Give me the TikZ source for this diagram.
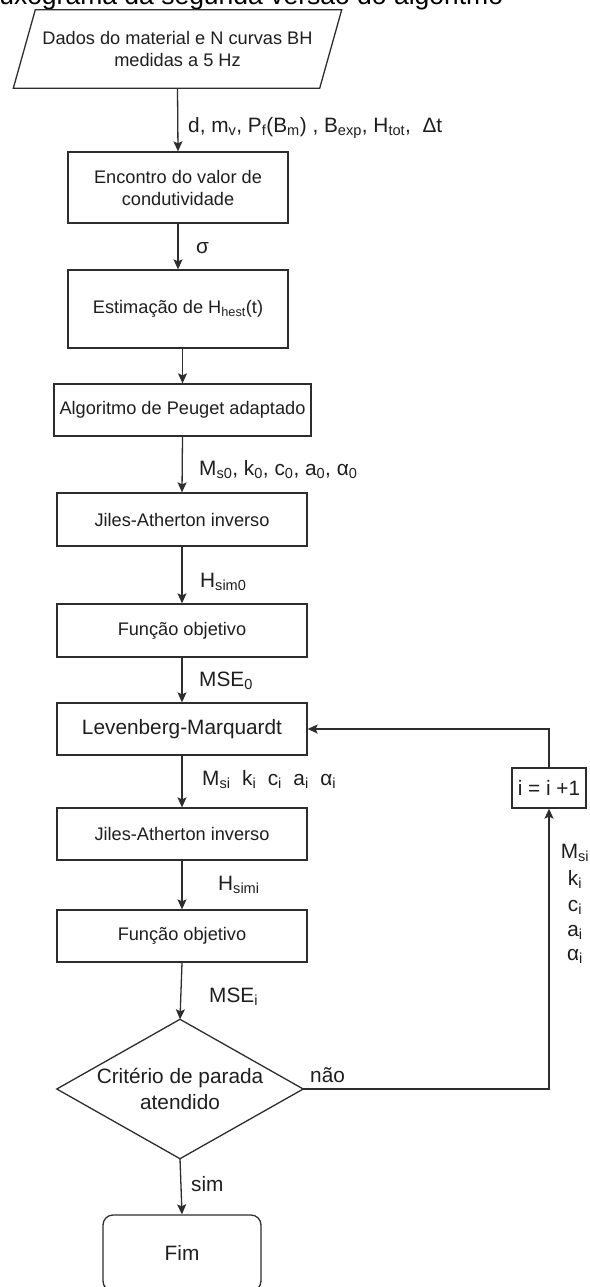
\documentclass[tikz,border=0pt]{standalone}
\usepackage{fontspec}
\setmainfont{Liberation Sans}
\usetikzlibrary{arrows.meta}

\definecolor{ink}{RGB}{30,30,30}
\definecolor{edge}{RGB}{45,45,45}

\newcommand\bodyfont{\fontsize{18.2}{22}\selectfont}
\newcommand\bigfont{\fontsize{20.8}{26}\selectfont}
\newcommand\sbs[1]{\textsubscript{#1}}

\tikzset{
  line/.style={draw=edge, line width=1.3pt},
  arr/.style={line, -{Stealth[length=10pt,width=9pt,inset=2pt]}},
  proc/.style={line, rectangle, inner sep=0pt, align=center, text=ink, font=\bodyfont},
  bigproc/.style={proc, font=\bigfont},
  lbl/.style={inner sep=0pt, anchor=base west, text=ink, font=\bigfont},
  stk/.style={inner sep=0pt, anchor=base, text=ink, font=\bigfont},
}

\begin{document}
\begin{tikzpicture}[x=1pt, y=-1pt]
\useasboundingbox (0,0) rectangle (589,1287);
\clip (0,0) rectangle (589,1287);

% heading
\node[inner sep=0pt, anchor=base west, font=\fontsize{26.5}{30}\selectfont] (title) at (-23,4.5)
  {Fluxograma da segunda versão do algoritmo};

% input data (parallelogram drawn round a plain node)
\node[inner sep=0pt, minimum width=306pt, minimum height=78pt, align=center, text=ink, font=\bodyfont]
  (input) at (177.5,49) {Dados do material e N curvas BH\\medidas a 5 Hz};
\draw[line] ([xshift=11pt]input.north west) -- ([xshift=11pt]input.north east)
  -- ([xshift=-11pt]input.south east) -- ([xshift=-11pt]input.south west) -- cycle;

% processing steps
\node[proc, minimum width=220pt, minimum height=71pt] (cond) at (178,187.5)
  {Encontro do valor de\\condutividade};
\node[proc, minimum width=220pt, minimum height=78pt] (hest) at (178,309)
  {Estimação de H\sbs{hest}(t)};
\node[proc, minimum width=257pt, minimum height=52pt] (peug) at (182.5,410)
  {Algoritmo de Peuget adaptado};
\node[proc, minimum width=250pt, minimum height=53pt] (ja0) at (182,519.5)
  {Jiles-Atherton inverso};
\node[proc, minimum width=250pt, minimum height=53pt] (obj0) at (182,630.5)
  {Função objetivo};
\node[bigproc, minimum width=250pt, minimum height=52pt] (lm) at (182,729)
  {Levenberg-Marquardt};
\node[proc, minimum width=250pt, minimum height=52pt] (jai) at (182,834)
  {Jiles-Atherton inverso};
\node[proc, minimum width=250pt, minimum height=52pt] (obji) at (182,936)
  {Função objetivo};

% decision (diamond drawn round a plain node)
\node[inner sep=0pt, minimum width=246pt, minimum height=139pt, align=center, text=ink, font=\bigfont]
  (crit) at (180,1089) {Critério de parada\\atendido};
\draw[line] (crit.north) -- (crit.east) -- (crit.south) -- (crit.west) -- cycle;

% end
\node[bigproc, rounded corners=10pt, minimum width=158pt, minimum height=76pt] (fim) at (182,1253) {Fim};

% counter update
\node[bigproc, minimum width=74pt, minimum height=40pt] (inc) at (549,788) {i = i +1};

% main flow
\draw[arr] (input.south) -- (cond.north);
\draw[arr] (cond.south) -- (hest.north);
\draw[arr] (peug.north |- hest.south) -- (peug.north);
\draw[arr] (peug.south) -- (ja0.north);
\draw[arr] (ja0.south) -- (obj0.north);
\draw[arr] (obj0.south) -- (lm.north);
\draw[arr] (lm.south) -- (jai.north);
\draw[arr] (jai.south) -- (obji.north);
\draw[arr] (obji.south) -- (crit.north);
\draw[arr] (crit.south) -- (fim.north);

% feedback loop
\draw[arr] (crit.east) -| (inc.south);
\draw[arr] (inc.north) |- (lm.east);

% connector labels
\node[lbl] (l-data) at (188,132)
  {d, m\sbs{v}, P\sbs{f}(B\sbs{m}) , B\sbs{exp}, H\sbs{tot},\ \ Δt};
\node[lbl] (l-sigma) at (196,253) {σ};
\node[lbl] (l-init) at (199,475) {M\sbs{s0}, k\sbs{0}, c\sbs{0}, a\sbs{0}, α\sbs{0}};
\node[lbl] (l-hsim0) at (200,587) {H\sbs{sim0}};
\node[lbl] (l-mse0) at (199,686) {MSE\sbs{0}};
\node[lbl] (l-par) at (202,785) {M\sbs{si}\ \ k\sbs{i}\ \ c\sbs{i}\ \ a\sbs{i}\ \ α\sbs{i}};
\node[lbl] (l-hsimi) at (218,890) {H\sbs{simi}};
\node[lbl] (l-msei) at (209,1002) {MSE\sbs{i}};
\node[lbl] (l-nao) at (310,1082) {não};
\node[lbl] (l-sim) at (191,1191) {sim};

% parameters carried up the loop
\node[stk] (s-ms) at (575,858) {M\sbs{si}};
\node[stk] (s-k) at (575,885) {k\sbs{i}};
\node[stk] (s-c) at (575,911) {c\sbs{i}};
\node[stk] (s-a) at (575,936) {a\sbs{i}};
\node[stk] (s-al) at (575,960) {α\sbs{i}};
\end{tikzpicture}
\end{document}
